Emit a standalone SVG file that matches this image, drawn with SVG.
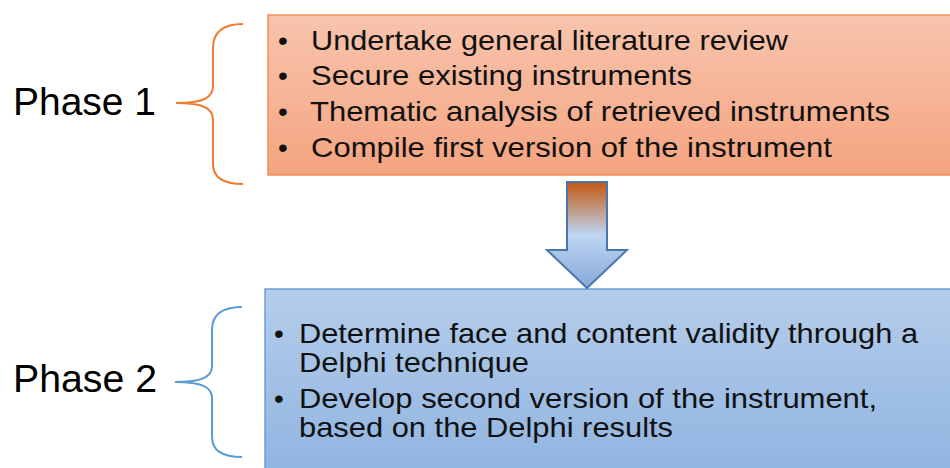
<svg xmlns="http://www.w3.org/2000/svg" width="950" height="468" viewBox="0 0 950 468">
<defs>
<linearGradient id="g1" x1="0" y1="0" x2="0" y2="1">
<stop offset="0" stop-color="#f8c4ad"/>
<stop offset="1" stop-color="#f4a480"/>
</linearGradient>
<linearGradient id="g2" x1="0" y1="0" x2="0" y2="1">
<stop offset="0" stop-color="#b5cdea"/>
<stop offset="1" stop-color="#8db2e0"/>
</linearGradient>
<linearGradient id="g3" gradientUnits="userSpaceOnUse" x1="0" y1="182" x2="0" y2="288">
<stop offset="0" stop-color="#c4570f"/>
<stop offset="0.5" stop-color="#bdd6f3"/>
<stop offset="1" stop-color="#88a7d8"/>
</linearGradient>
<style>
.lbl{font-family:"Liberation Sans",Arial,sans-serif;font-size:38px;fill:#000}
.txt{font-family:"Liberation Sans",Arial,sans-serif;font-size:28px;fill:#111}
.brace{fill:none;stroke-width:2}
</style>
</defs>
<g id="phase1">
<rect x="268" y="15" width="700" height="160" fill="url(#g1)" stroke="#f28e55" stroke-width="1.5"/>
<text class="lbl" x="13" y="115" textLength="143" lengthAdjust="spacingAndGlyphs">Phase 1</text>
<path class="brace" stroke="#ed7d31" d="M243,24 C225,24 213,30 213,48 L213,86 C213,98 203,103 176,103 C203,103 213,108 213,120 L213,164 C213,178 225,184 243,184"/>
<g class="txt">
<text x="278" y="50">•</text><text x="311" y="50" textLength="477" lengthAdjust="spacingAndGlyphs">Undertake general literature review</text>
<text x="278" y="85">•</text><text x="311" y="85" textLength="381" lengthAdjust="spacingAndGlyphs">Secure existing instruments</text>
<text x="278" y="121">•</text><text x="310" y="121" textLength="580" lengthAdjust="spacingAndGlyphs">Thematic analysis of retrieved instruments</text>
<text x="278" y="157">•</text><text x="311" y="157" textLength="521" lengthAdjust="spacingAndGlyphs">Compile first version of the instrument</text>
</g>
</g>
<g id="phase2">
<rect x="265" y="289" width="700" height="200" fill="url(#g2)" stroke="#6a9fd8" stroke-width="1.5"/>
<text class="lbl" x="13" y="392" textLength="144" lengthAdjust="spacingAndGlyphs">Phase 2</text>
<path class="brace" stroke="#5b9bd5" d="M242,307 C224,307 212,313 212,330 L212,366 C212,377 202,382 175,382 C202,382 212,387 212,398 L212,437 C212,451 224,457 242,457"/>
<g class="txt">
<text x="274" y="343">•</text><text x="299" y="343" textLength="619" lengthAdjust="spacingAndGlyphs">Determine face and content validity through a</text>
<text x="299" y="372" textLength="230" lengthAdjust="spacingAndGlyphs">Delphi technique</text>
<text x="274" y="408">•</text><text x="299" y="408" textLength="578" lengthAdjust="spacingAndGlyphs">Develop second version of the instrument,</text>
<text x="299" y="437" textLength="374" lengthAdjust="spacingAndGlyphs">based on the Delphi results</text>
</g>
</g>
<g id="connectors">
<path d="M567,182 L607,182 L607,250 L627,250 L587,288 L547,250 L567,250 Z" fill="url(#g3)" stroke="#4a78ad" stroke-width="2" stroke-linejoin="miter"/>
</g>
</svg>
